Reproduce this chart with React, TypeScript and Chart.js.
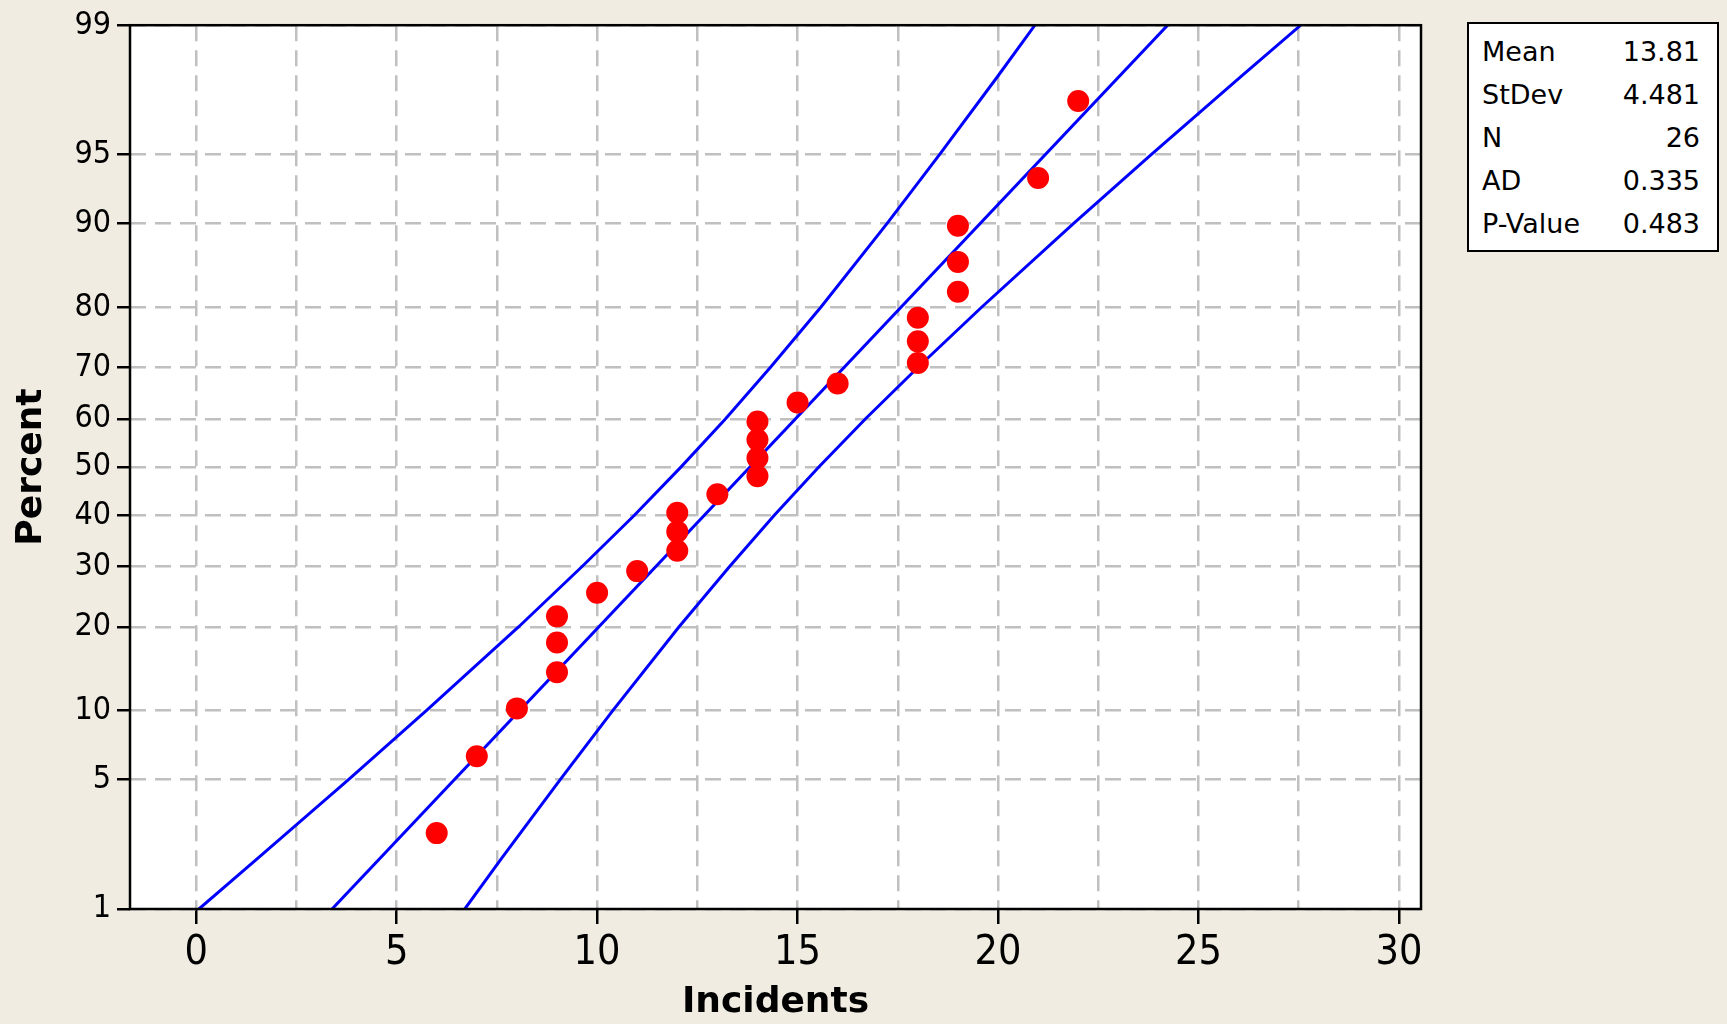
import React, { useEffect, useRef } from 'react';
import { Chart, registerables, LinearScale } from 'chart.js';

// ---- data ----
const incidents = [6, 7, 8, 9, 9, 9, 10, 11, 12, 12, 12, 13, 14, 14, 14, 14, 15, 16, 18, 18, 18, 19, 19, 19, 21, 22];
const percents = [2.7, 6.4, 10.2, 14.0, 17.8, 21.6, 25.4, 29.2, 33.0, 36.7, 40.5, 44.3, 48.1, 51.9, 55.7, 59.5, 63.3, 67.0, 70.8, 74.6, 78.4, 82.2, 86.0, 89.8, 93.6, 97.3];

const fitPercents = [1, 99];
const fitX = [3.39, 24.23];

const bandPercents = [1, 2, 5, 10, 20, 30, 40, 50, 60, 70, 80, 90, 95, 98, 99];
const lowerBandX = [0.07, 1.57, 3.8, 5.74, 8.04, 9.62, 10.93, 12.09, 13.2, 14.32, 15.58, 17.23, 18.54, 19.98, 20.92];
const upperBandX = [6.7, 7.64, 9.08, 10.39, 12.04, 13.3, 14.42, 15.53, 16.69, 18.0, 19.59, 21.88, 23.82, 26.05, 27.55];

const yTickValues = [1, 5, 10, 20, 30, 40, 50, 60, 70, 80, 90, 95, 99];
const xTickValues = [0, 2.5, 5, 7.5, 10, 12.5, 15, 17.5, 20, 22.5, 25, 27.5, 30];
const xLabelValues = [0, 5, 10, 15, 20, 25, 30];

const statLabels = ['Mean', 'StDev', 'N', 'AD', 'P-Value'];
const statValues = ['13.81', '4.481', '26', '0.335', '0.483'];

// ---- normal probability helpers (scale transform) ----
function probit(p: number): number {
  const a = [-3.969683028665376e1, 2.209460984245205e2, -2.759285104469687e2, 1.38357751867269e2, -3.066479806614716e1, 2.506628277459239];
  const b = [-5.447609879822406e1, 1.615858368580409e2, -1.556989798598866e2, 6.680131188771972e1, -1.328068155288572e1];
  const c = [-7.784894002430293e-3, -3.223964580411365e-1, -2.400758277161838, -2.549732539343734, 4.374664141464968, 2.938163982698783];
  const d = [7.784695709041462e-3, 3.224671290700398e-1, 2.445134137142996, 3.754408661907416];
  const plow = 0.02425;
  if (p <= 0) return -8;
  if (p >= 1) return 8;
  if (p < plow) {
    const q = Math.sqrt(-2 * Math.log(p));
    return (((((c[0] * q + c[1]) * q + c[2]) * q + c[3]) * q + c[4]) * q + c[5]) / ((((d[0] * q + d[1]) * q + d[2]) * q + d[3]) * q + 1);
  }
  if (p <= 1 - plow) {
    const q = p - 0.5;
    const r = q * q;
    return ((((((a[0] * r + a[1]) * r + a[2]) * r + a[3]) * r + a[4]) * r + a[5]) * q) / (((((b[0] * r + b[1]) * r + b[2]) * r + b[3]) * r + b[4]) * r + 1);
  }
  const q = Math.sqrt(-2 * Math.log(1 - p));
  return -(((((c[0] * q + c[1]) * q + c[2]) * q + c[3]) * q + c[4]) * q + c[5]) / ((((d[0] * q + d[1]) * q + d[2]) * q + d[3]) * q + 1);
}

function normCdf(z: number): number {
  const t = 1 / (1 + 0.3275911 * Math.abs(z) / Math.SQRT2);
  const y = 1 - (((((1.061405429 * t - 1.453152027) * t + 1.421413741) * t - 0.284496736) * t + 0.254829592) * t) * Math.exp(-(z * z) / 2);
  return z >= 0 ? 0.5 * (1 + y) : 0.5 * (1 - y);
}

class ProbitScale extends (LinearScale as any) {
  static id = 'probit';
  static defaults = { ticks: { callback: (v: number) => String(v) } };
  determineDataLimits() {
    this.min = this.options.min;
    this.max = this.options.max;
  }
  buildTicks() {
    return yTickValues.map((v) => ({ value: v }));
  }
  configure() {
    super.configure();
    this._zMin = probit(this.min / 100);
    this._zMax = probit(this.max / 100);
  }
  getPixelForValue(v: number) {
    const z = probit(v / 100);
    return this.getPixelForDecimal((z - this._zMin) / (this._zMax - this._zMin));
  }
  getValueForPixel(px: number) {
    const dec = this.getDecimalForPixel(px);
    return normCdf(this._zMin + dec * (this._zMax - this._zMin)) * 100;
  }
}

Chart.register(...registerables, ProbitScale as any);

const FONT_C = "'DejaVu Sans Condensed', 'DejaVu Sans', sans-serif";
const FONT = "'DejaVu Sans', sans-serif";

const frame = {
  id: 'frame',
  afterDraw(chart: any) {
    const { ctx, chartArea: a } = chart;
    ctx.save();
    ctx.strokeStyle = '#000';
    ctx.lineWidth = 2.5;
    ctx.strokeRect(a.left, a.top, a.right - a.left, a.bottom - a.top);
    ctx.restore();
  },
};

const bg = {
  id: 'plotbg',
  beforeDraw(chart: any) {
    const { ctx, chartArea: a } = chart;
    ctx.save();
    ctx.fillStyle = '#FFFFFF';
    ctx.fillRect(a.left, a.top, a.right - a.left, a.bottom - a.top);
    ctx.restore();
  },
};

export default function App() {
  const ref = useRef<HTMLCanvasElement>(null);
  useEffect(() => {
    if (!ref.current) return;
    const toXY = (xs: number[], ys: number[]) => xs.map((x, i) => ({ x, y: ys[i] }));
    const lineStyle = { type: 'line', borderColor: '#0000FF', borderWidth: 3, pointRadius: 0, fill: false, order: 1 };
    const chart = new Chart(ref.current, {
      type: 'scatter',
      data: {
        datasets: [
          {
            label: 'Data',
            data: toXY(incidents, percents),
            backgroundColor: '#FF0000',
            borderWidth: 0,
            pointRadius: 11,
            order: 0,
          },
          { label: 'Fit', data: toXY(fitX, fitPercents), ...lineStyle },
          { label: 'Lower', data: toXY(lowerBandX, bandPercents), ...lineStyle },
          { label: 'Upper', data: toXY(upperBandX, bandPercents), ...lineStyle },
        ] as any,
      },
      options: {
        animation: false,
        responsive: false,
        devicePixelRatio: 1,
        events: [],
        layout: { padding: { top: 20, right: 306, bottom: 0, left: 0 } },
        plugins: { legend: { display: false }, tooltip: { enabled: false } },
        scales: {
          x: {
            type: 'linear',
            min: -1.65,
            max: 30.55,
            afterBuildTicks: (s: any) => {
              s.ticks = xTickValues.map((v) => ({ value: v }));
            },
            afterFit: (s: any) => {
              s.height = 115;
            },
            ticks: {
              autoSkip: false,
              maxRotation: 0,
              color: '#000',
              padding: 5,
              font: { family: FONT_C, size: 41 },
              callback: (v: any) => (xLabelValues.includes(Number(v)) ? String(v) : ''),
            },
            grid: {
              color: '#C0C0C0',
              lineWidth: 2.5,
              tickLength: 15,
              tickWidth: 2.5,
              tickColor: (c: any) => (c.tick && xLabelValues.includes(c.tick.value) ? '#000' : 'rgba(0,0,0,0)'),
              tickBorderDash: [],
            },
            border: { display: false, dash: [16, 9] },
            title: {
              display: true,
              text: 'Incidents',
              color: '#000',
              font: { family: FONT, size: 36, weight: 'bold' },
              padding: { top: 0, bottom: 0 },
            },
          },
          y: {
            type: 'probit' as any,
            min: 1,
            max: 99,
            afterFit: (s: any) => {
              s.width = 130;
            },
            ticks: {
              autoSkip: false,
              color: '#000',
              padding: 6,
              font: { family: FONT_C, size: 32 },
              callback: (v: any) => String(v),
            },
            grid: {
              color: '#C0C0C0',
              lineWidth: 2.5,
              tickLength: 13,
              tickWidth: 2.5,
              tickColor: '#000',
              tickBorderDash: [],
            },
            border: { display: false, dash: [16, 9] },
            title: {
              display: true,
              text: 'Percent',
              color: '#000',
              font: { family: FONT, size: 36, weight: 'bold' },
              padding: { top: 10, bottom: 0 },
            },
          } as any,
        },
      } as any,
      plugins: [bg, frame],
    });
    return () => chart.destroy();
  }, []);

  return (
    <div style={{ position: 'absolute', left: 0, top: 0, width: 1727, height: 1024, background: '#F0ECE2', overflow: 'hidden' }}>
      <canvas ref={ref} width={1727} height={1024} style={{ position: 'absolute', left: 0, top: 0, width: 1727, height: 1024 }} />
      <div
        style={{
          position: 'absolute',
          left: 1467,
          top: 22,
          width: 252,
          height: 230,
          boxSizing: 'border-box',
          border: '2.5px solid #000',
          background: '#FFFFFF',
          fontFamily: FONT,
          fontSize: 27,
          color: '#000',
        }}
      >
        {statLabels.map((l, i) => (
          <div
            key={l}
            style={{
              position: 'absolute',
              left: 13,
              right: 17,
              top: 8 + i * 43,
              height: 40,
              lineHeight: '40px',
              display: 'flex',
              justifyContent: 'space-between',
            }}
          >
            <span>{l}</span>
            <span>{statValues[i]}</span>
          </div>
        ))}
      </div>
    </div>
  );
}
